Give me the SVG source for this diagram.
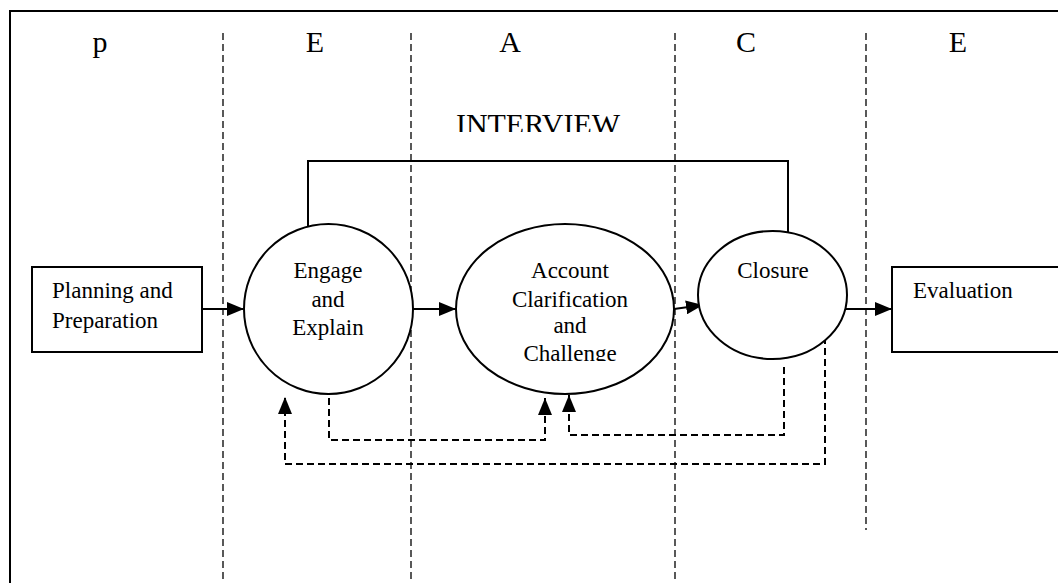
<svg xmlns="http://www.w3.org/2000/svg" width="1058" height="583" viewBox="0 0 1058 583">
<style>
text{font-family:'Liberation Serif','Times New Roman',Tinos,'DejaVu Serif',serif;fill:#000}
.hd{font-size:30px;text-anchor:middle}
.nt{font-size:23px;text-anchor:middle}
.sep{stroke:#000;stroke-width:1.3;stroke-dasharray:7 4;fill:none}
.fb{stroke:#000;stroke-width:2;stroke-dasharray:7 4;fill:none}
.sol{stroke:#000;stroke-width:2;fill:none}
.shape{fill:#fff;stroke:#000;stroke-width:2}
</style>
<defs>
<marker id="ah" markerWidth="18" markerHeight="14" refX="17" refY="7" orient="auto" markerUnits="userSpaceOnUse">
<path d="M0,0 L17,7 L0,14 Z" fill="#000"/>
</marker>
<clipPath id="clipInt"><rect x="0" y="0" width="1058" height="132"/></clipPath>
<clipPath id="clipCh"><rect x="0" y="0" width="1058" height="361"/></clipPath>
</defs>
<rect width="1058" height="583" fill="#fff"/>
<g id="frame">
<path d="M10,590 L10,11 L1060,11" class="sol"/>
</g>
<g id="separators">
<line x1="223" y1="33" x2="223" y2="583" class="sep"/>
<line x1="411" y1="33" x2="411" y2="583" class="sep"/>
<line x1="675" y1="33" x2="675" y2="583" class="sep"/>
<line x1="866" y1="33" x2="866" y2="530" class="sep"/>
</g>
<g id="headers" font-family="Liberation Serif, serif">
<text class="hd" x="100" y="52">p</text>
<text class="hd" x="315" y="52">E</text>
<text class="hd" x="510" y="52">A</text>
<text class="hd" x="746" y="52">C</text>
<text class="hd" x="958" y="52">E</text>
<text class="hd" x="538" y="134" clip-path="url(#clipInt)">INTERVIEW</text>
</g>
<g id="connectors">
<path d="M308,228 L308,161 L788,161 L788,232" class="sol"/>
<line x1="202" y1="309" x2="244" y2="309" class="sol" marker-end="url(#ah)"/>
<line x1="413" y1="309" x2="456" y2="309" class="sol" marker-end="url(#ah)"/>
<line x1="674" y1="309" x2="703" y2="305" class="sol" marker-end="url(#ah)"/>
<line x1="845" y1="309" x2="892" y2="309" class="sol" marker-end="url(#ah)"/>
<path d="M329,398 L329,440 L545,440 L545,398" class="fb" marker-end="url(#ah)"/>
<path d="M784,367 L784,435 L569,435 L569,395" class="fb" marker-end="url(#ah)"/>
<path d="M825,337 L825,464 L285,464 L285,397" class="fb" marker-end="url(#ah)"/>
</g>
<g id="planning">
<rect x="32" y="267" width="170" height="85" class="shape"/>
<text x="52" y="298" style="font-size:23px">Planning and</text>
<text x="52" y="328" style="font-size:23px">Preparation</text>
</g>
<g id="engage">
<ellipse cx="328.5" cy="309" rx="84.5" ry="85" class="shape"/>
<text class="nt" x="328" y="278">Engage</text>
<text class="nt" x="328" y="307">and</text>
<text class="nt" x="328" y="335">Explain</text>
</g>
<g id="account">
<ellipse cx="565" cy="309" rx="109" ry="85" class="shape"/>
<text class="nt" x="570" y="278">Account</text>
<text class="nt" x="570" y="307">Clarification</text>
<text class="nt" x="570" y="333">and</text>
<text class="nt" x="570" y="361" clip-path="url(#clipCh)">Challenge</text>
</g>
<g id="closure">
<ellipse cx="772.5" cy="295" rx="74.5" ry="64" class="shape"/>
<text class="nt" x="773" y="278">Closure</text>
</g>
<g id="evaluation">
<rect x="892" y="267" width="180" height="85" class="shape"/>
<text x="913" y="298" style="font-size:23px">Evaluation</text>
</g>
</svg>
